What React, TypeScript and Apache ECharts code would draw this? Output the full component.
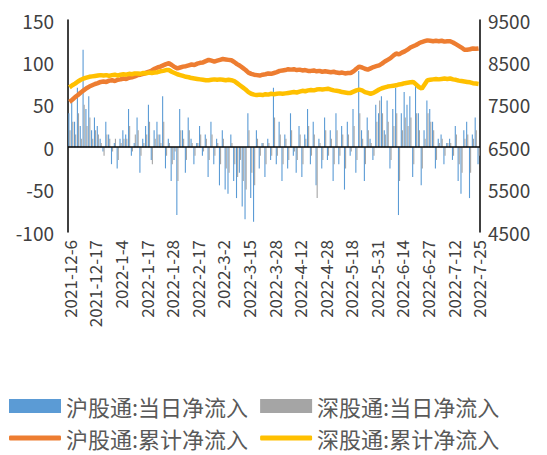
import React, { useEffect, useRef } from "react";
import * as echarts from "echarts";

const months: [string, number[]][] = [
  ["2021-12-", [6, 7, 8, 9, 10, 13, 14, 15, 16, 17, 20, 21, 22, 23, 28, 29, 30, 31]],
  ["2022-1-", [4, 5, 6, 7, 10, 11, 12, 13, 14, 17, 18, 19, 20, 21, 24, 25, 26, 27, 28]],
  ["2022-2-", [7, 8, 9, 10, 11, 14, 15, 16, 17, 18, 21, 22, 23, 24, 25, 28]],
  ["2022-3-", [1, 2, 3, 4, 7, 8, 9, 10, 11, 14, 15, 16, 17, 18, 21, 22, 23, 24, 25, 28, 29, 30, 31]],
  ["2022-4-", [1, 6, 7, 8, 11, 12, 13, 19, 20, 21, 22, 25, 26, 27, 28, 29]],
  ["2022-5-", [5, 10, 11, 12, 13, 16, 17, 18, 19, 20, 23, 24, 25, 26, 27, 30, 31]],
  ["2022-6-", [1, 2, 6, 7, 8, 9, 10, 13, 14, 15, 16, 17, 20, 21, 22, 23, 24, 27, 28, 29, 30]],
  ["2022-7-", [5, 6, 7, 8, 11, 12, 13, 14, 15, 18, 19, 20, 21, 22, 25]],
];
const categories: string[] = months.flatMap(([p, ds]) => ds.map((d) => p + d));

const shDaily = [
  40,55,30,70,25,115,45,60,20,35, 25,10,-5,30,15,-20,5,-25,10,20,
  15,45,-10,5,35,-30,10,25,50,-15, 20,30,15,60,-25,10,-40,-15,-80,45,
  20,-30,35,10,-20,5,25,-10,15,-35, 30,-20,10,-45,20,-50,-55,15,-40,-60,
  -30,-70,-85,40,-60,-88,20,-25,5,-35, 10,-15,70,-20,30,-40,15,-25,40,-10,
  -30,25,-35,15,45,-20,30,-45,10,-25, 35,-15,20,-40,40,-20,25,-50,30,-10,
  45,-30,90,20,-40,35,10,-15,50,40, 60,20,55,-25,45,70,-80,40,65,50,
  60,-35,75,40,-45,20,55,45,30,-25, 10,15,-20,5,10,-15,25,-40,-55,20,
  30,-60,15,35,-20,
];
const szDaily = [
  20,30,15,40,10,50,25,35,10,20, 15,5,-10,15,10,-5,10,-15,5,10,
  10,25,-5,15,20,-10,5,15,30,-20, 10,15,5,30,-10,5,-20,-5,-40,20,
  10,-15,20,5,-10,5,15,-5,10,-15, 15,-10,5,-20,10,-25,-30,5,-20,-35,
  -15,-40,-50,20,-30,-45,10,-10,5,-20, 5,-10,35,-10,15,-20,10,-15,20,-5,
  -15,15,-20,10,25,-10,15,-60,5,-15, 20,-10,10,-20,20,-10,15,-25,15,-5,
  25,-15,40,10,-20,20,5,-10,30,55, 40,15,30,-15,25,40,-40,20,35,25,
  35,-20,40,20,-25,10,40,30,20,-15, 5,10,-10,5,5,-10,15,-20,-30,10,
  15,-30,10,20,-10,
];
const shCum = [
  7570,7620,7680,7730,7790,7840,7890,7930,7960,7990,8010,8040,
  8050,8040,8070,8080,8060,8090,8100,8120,8110,8140,8150,8170,8200,
  8210,8230,8260,8280,8310,8350,8380,8400,8430,8460,8480,
  8440,8390,8360,
  8380,8400,8410,8430,8450,8440,8470,8490,8500,8530,8560,
  8540,8520,8540,8560,8580,8570,8560,8550,
  8510,8460,8420,8370,8320,8260,8230,8210,8200,
  8190,8210,8220,8240,8230,8250,8270,8300,8310,8320,8340,
  8330,8340,8320,8330,8310,8320,8300,8300,8310,8290,8300,8280,8290,8280,
  8270,8280,8260,8250,8260,8240,8250,8250,
  8290,8350,8400,8380,8350,8330,
  8360,8390,8410,8430,8470,8520,8560,8600,8660,8710,
  8690,8730,8760,8800,8850,8880,8910,8950,8980,9000,9020,
  9010,9000,9010,9000,9010,8990,9000,9000,
  8970,8930,8890,8850,8800,8800,8810,8830,8820,8830,
];
const szCum = [
  7910,7960,8000,8050,8090,8120,8140,8160,8170,8180,8190,8200,
  8190,8200,8180,8200,8210,8190,8210,8220,8210,8230,8220,8240,8240,
  8230,8250,8240,8260,8250,8260,8270,8290,8300,8320,8320,
  8280,8250,8220,
  8200,8180,8160,8150,8130,8120,8110,8100,8090,8080,8080,
  8090,8100,8090,8100,8090,8080,8090,8080,
  8060,8010,7960,7910,7860,7800,7760,7740,7730,
  7740,7730,7750,7740,7760,7750,7760,7770,7760,7770,7780,
  7790,7800,7790,7810,7830,7820,7840,7850,7840,7860,7870,7860,7870,7880,
  7860,7840,7830,7820,7800,7790,7780,7780,
  7810,7840,7860,7840,7800,7780,
  7760,7780,7820,7860,7890,7910,7930,7940,7950,7960,
  7980,7990,8010,8020,8030,8040,7980,7920,7880,7980,8080,
  8090,8100,8110,8100,8110,8120,8110,8120,
  8100,8090,8070,8060,8050,8040,8030,8010,8000,7990,
];

const names = ["沪股通:当日净流入", "深股通:当日净流入", "沪股通:累计净流入", "深股通:累计净流入"];
const FONT = "Noto Sans CJK SC";

export default function App() {
  const ref = useRef<HTMLDivElement>(null);
  useEffect(() => {
    document.body.style.margin = "0";
    const chart = echarts.init(ref.current!, undefined, { renderer: "svg" });
    const legendCommon = {
      itemWidth: 52,
      itemHeight: 14,
      itemGap: 12,
      icon: "rect",
      textStyle: { fontSize: 22, color: "#595959", fontFamily: FONT },
    };
    chart.setOption({
      animation: false,
      textStyle: { fontFamily: FONT },
      grid: { left: 68, right: 67, top: 20, height: 212 },
      legend: [
        { ...legendCommon, data: [names[0], names[1]], left: 4, top: 390 },
        {
          ...legendCommon,
          data: [names[2], names[3]].map((n) => ({ name: n, icon: "roundRect" })),
          itemHeight: 5,
          left: 4,
          top: 422,
        },
      ],
      xAxis: {
        type: "category",
        data: categories,
        axisLine: { show: false },
        axisTick: { show: false },
        axisLabel: { interval: 8, rotate: 90, fontSize: 17, color: "#404040", margin: 8 },
      },
      yAxis: [
        {
          type: "value", min: -100, max: 150, interval: 50,
          splitLine: { show: false },
          axisLine: { show: true, lineStyle: { color: "#000", width: 1.5 } },
          axisLabel: { fontSize: 19, color: "#404040", margin: 14 },
        },
        {
          type: "value", min: 4500, max: 9500, interval: 1000,
          splitLine: { show: false },
          axisLine: { show: true, lineStyle: { color: "#000", width: 1.5 } },
          axisLabel: { fontSize: 19, color: "#404040", margin: 8, formatter: (v: number) => String(v) },
        },
      ],
      series: [
        {
          name: names[0], type: "bar", data: shDaily, barWidth: 1.1, barGap: "0%",
          itemStyle: { color: "#5b9bd5" },
          markLine: {
            silent: true, symbol: "none", label: { show: false },
            lineStyle: { color: "#000", type: "solid", width: 1.5 },
            data: [{ yAxis: 0 }],
          },
        },
        { name: names[1], type: "bar", data: szDaily, barWidth: 1.1, itemStyle: { color: "#a5a5a5" } },
        {
          name: names[2], type: "line", yAxisIndex: 1, data: shCum, showSymbol: false,
          lineStyle: { color: "#ed7d31", width: 4.5 }, itemStyle: { color: "#ed7d31" },
        },
        {
          name: names[3], type: "line", yAxisIndex: 1, data: szCum, showSymbol: false,
          lineStyle: { color: "#ffc000", width: 4.5 }, itemStyle: { color: "#ffc000" },
        },
      ],
    });
    return () => chart.dispose();
  }, []);
  return <div ref={ref} style={{ width: 547, height: 455 }} />;
}
